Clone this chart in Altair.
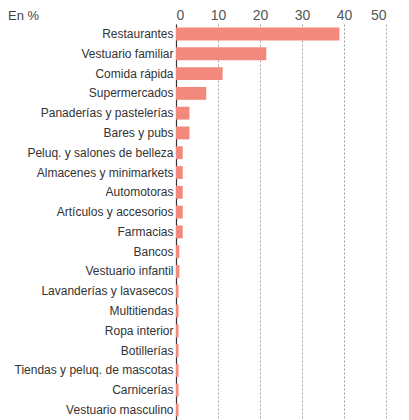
import altair as alt
import pandas as pd

categories = ["Restaurantes", "Vestuario familiar", "Comida rápida", "Supermercados",
              "Panaderías y pastelerías", "Bares y pubs", "Peluq. y salones de belleza",
              "Almacenes y minimarkets", "Automotoras", "Artículos y accesorios", "Farmacias",
              "Bancos", "Vestuario infantil", "Lavanderías y lavasecos", "Multitiendas",
              "Ropa interior", "Botillerías", "Tiendas y peluq. de mascotas", "Carnicerías",
              "Vestuario masculino"]
values = [38.9, 21.5, 11.1, 7.2, 3.2, 3.2, 1.6, 1.6, 1.6, 1.6, 1.6,
          0.8, 0.8, 0.6, 0.6, 0.6, 0.6, 0.6, 0.6, 0.6]
x_ticks = [0, 10, 20, 30, 40, 50]
unit_label = "En %"

df = pd.DataFrame({"cat": categories, "val": values})
FONT = "Liberation Sans, Arial, sans-serif"

bars = alt.Chart(df).mark_bar(color="#F3897C").encode(
    x=alt.X("val:Q", scale=alt.Scale(domain=[0, 50], nice=False),
            axis=alt.Axis(orient="top", values=x_ticks, title=None, ticks=False,
                          domain=False, grid=True, gridDash=[2, 2], gridColor="#a0a0a0",
                          gridWidth=1, labelFontSize=14, labelColor="#555555",
                          labelPadding=2, labelFont=FONT)),
    y=alt.Y("cat:N", sort=categories,
            scale=alt.Scale(paddingInner=0.35, paddingOuter=0.18),
            axis=alt.Axis(title=None, ticks=False, domain=True, domainColor="#333333",
                          domainWidth=1.2, labelFontSize=12, labelColor="#333333",
                          labelPadding=3, labelFont=FONT, labelLimit=200)),
)

title_text = alt.Chart(pd.DataFrame({"t": [unit_label]})).mark_text(
    align="left", baseline="alphabetic", fontSize=13, color="#444444", font=FONT
).encode(x=alt.value(-168), y=alt.value(-4), text="t:N")

chart = alt.layer(bars, title_text).properties(
    width=210, height=396,
    padding={"left": 168, "top": 16, "right": 15, "bottom": 0},
    autosize=alt.AutoSizeParams(type="none"),
).configure_view(stroke=None).configure_axis(gridOpacity=1)

chart.save("out.html", embed_options={"renderer": "svg", "actions": False})
